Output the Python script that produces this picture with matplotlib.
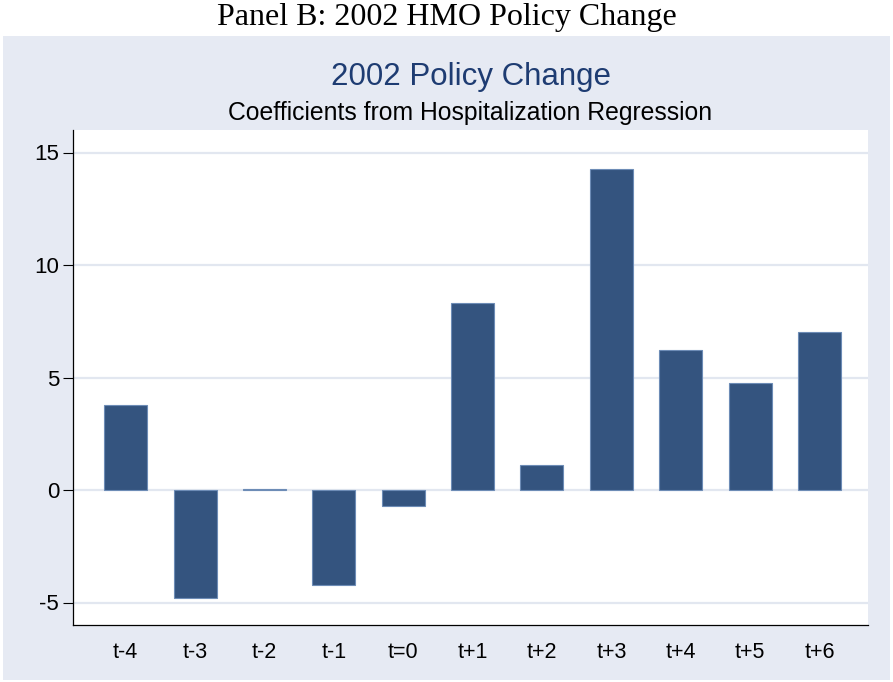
import matplotlib
matplotlib.use('Agg')
import matplotlib.pyplot as plt
from matplotlib.patches import Rectangle

# ── data ──
periods = ['t-4', 't-3', 't-2', 't-1', 't=0', 't+1', 't+2', 't+3', 't+4', 't+5', 't+6']
coefs = [3.79, -4.81, 0.05, -4.23, -0.71, 8.33, 1.11, 14.25, 6.24, 4.77, 7.04]
yticks = [-5, 0, 5, 10, 15]

BG = '#e6eaf3'
BAR = '#34547f'
GRID = '#e2e7f0'

plt.rcParams['font.family'] = ['Liberation Sans', 'DejaVu Sans']

fig = plt.figure(figsize=(8.93, 6.82), dpi=100)
fig.patch.set_facecolor('white')
fig.patches.append(Rectangle((3/893, 2/682), 887/893, 644/682,
                             transform=fig.transFigure, facecolor=BG,
                             edgecolor='none', zorder=-10))
fig.text(0.5, 1 - 18/682, 'Panel B: 2002 HMO Policy Change', ha='center', va='center',
         fontsize=23, family='Liberation Serif')

ax = fig.add_axes([73/893, 57/682, 795/893, 495/682])
ax.set_facecolor('white')
x = list(range(len(periods)))
ax.bar(x, coefs, width=0.62, color=BAR, edgecolor='#6d8cb6', linewidth=0.8, zorder=3)

ax.set_xlim(-0.76, 10.7)
ax.set_ylim(-6, 16)
ax.set_yticks(yticks)
ax.set_yticklabels([str(v) for v in yticks])
ax.set_xticks(x)
ax.set_xticklabels(periods)
ax.tick_params(axis='x', length=0, pad=12, labelsize=15.5)
ax.tick_params(axis='y', length=7, width=0.8, pad=3, labelsize=16)
ax.yaxis.grid(True, color=GRID, lw=1.6, zorder=0)
ax.set_axisbelow(True)
for s in ['top', 'right']:
    ax.spines[s].set_visible(False)
for s in ['left', 'bottom']:
    ax.spines[s].set_linewidth(0.9)

cx = (73 + 868) / 2 / 893
fig.text(cx, 1 - 77/682, '2002 Policy Change', ha='center', va='center',
         fontsize=22.5, color='#1e3c72')
fig.text(cx, 1 - 113/682, 'Coefficients from Hospitalization Regression', ha='center',
         va='center', fontsize=17.8)

fig.savefig('out.png', dpi=100)
